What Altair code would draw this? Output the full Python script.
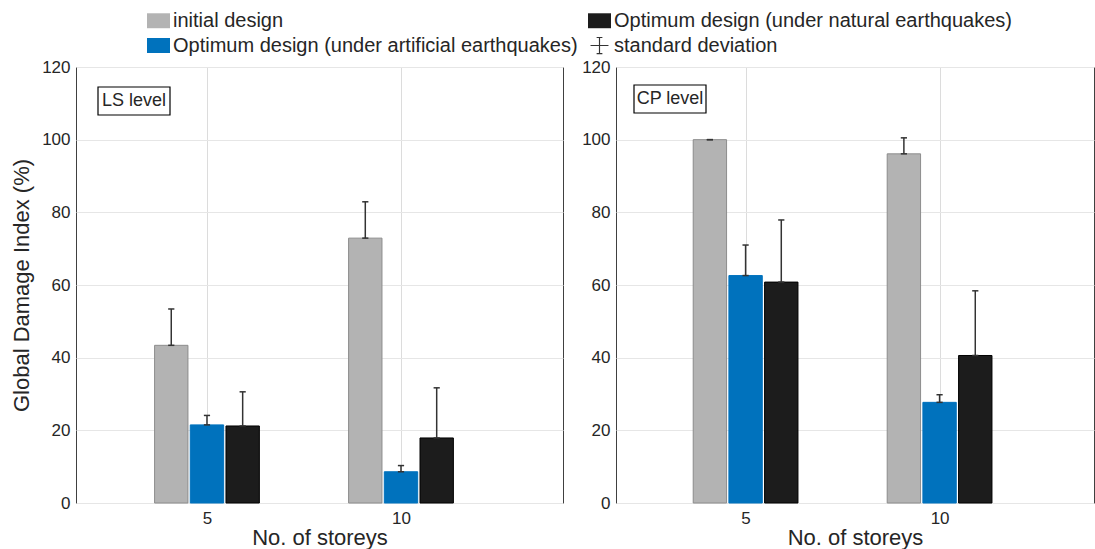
import altair as alt
import pandas as pd

storeys = ["5", "10"]
series = [
    "initial design",
    "Optimum design (under artificial earthquakes)",
    "Optimum design (under natural earthquakes)",
]
std_label = "standard deviation"
panels = ["LS level", "CP level"]

# mean values [5 storeys, 10 storeys] per series
ls_initial = [43.4, 72.9]
ls_artificial = [21.5, 8.6]
ls_natural = [21.2, 17.9]
ls_initial_sd = [10.0, 10.0]
ls_artificial_sd = [2.6, 1.7]
ls_natural_sd = [9.4, 13.8]

cp_initial = [100.0, 96.1]
cp_artificial = [62.6, 27.7]
cp_natural = [60.8, 40.6]
cp_initial_sd = [0.0, 4.4]
cp_artificial_sd = [8.4, 2.1]
cp_natural_sd = [17.1, 17.8]

y_ticks = [0, 20, 40, 60, 80, 100, 120]

colors = ["#b3b3b3", "#0072bd", "#1c1c1c", "#333333"]
strokes = ["#8c8c8c", "#0072bd", "#000000"]

panel_data = {
    "LS level": ([ls_initial, ls_artificial, ls_natural],
                 [ls_initial_sd, ls_artificial_sd, ls_natural_sd]),
    "CP level": ([cp_initial, cp_artificial, cp_natural],
                 [cp_initial_sd, cp_artificial_sd, cp_natural_sd]),
}

label_expr = "[" + ",".join("'%s'" % s for s in storeys) + "][datum.value - 1]"
FONT = "Liberation Sans"
TXT = "#262626"

# legend fills column by column: initial/artificial, then natural/std
legend_domain = series + [std_label]
# thin filled bars forming the error-bar glyph; plain rectangle for swatches
cross_path = ("M-0.78,-0.05H0.78V0.05H-0.78Z"
              "M-0.05,-0.7H0.05V0.7H-0.05Z"
              "M-0.25,-0.75H0.25V-0.65H-0.25Z"
              "M-0.25,0.65H0.25V0.75H-0.25Z")
rect_path = "M-1,-0.65H1V0.65H-1Z"
sym_shape = "datum.value === '%s' ? '%s' : '%s'" % (std_label, cross_path, rect_path)


def make_panel(name, first, width, xdomain):
    means, sds = panel_data[name]
    rows = []
    for j, s in enumerate(series):
        for i, st in enumerate(storeys):
            rows.append({"storey": i + 1, "sidx": j, "series": s,
                         "mean": means[j][i], "sd": sds[j][i]})
    df = pd.DataFrame(rows)

    base = alt.Chart(df).transform_calculate(
        xc="datum.storey + (datum.sidx - 1) * 0.184",
        xl="datum.xc - 0.086",
        xr="datum.xc + 0.086",
        cl="datum.xc - 0.016",
        cr="datum.xc + 0.016",
        top="datum.mean + datum.sd",
    )

    xscale = alt.Scale(domain=xdomain, zero=False, nice=False)
    yscale = alt.Scale(domain=[0, 120], nice=False)

    xaxis = alt.Axis(values=[1, 2], labelExpr=label_expr, grid=True,
                     gridColor="#dcdcdc", ticks=False, domain=False,
                     labelFontSize=17, labelPadding=7, titleFontSize=22,
                     titleBaseline="alphabetic", titleY=41,
                     labelFont=FONT, titleFont=FONT,
                     labelColor=TXT, titleColor=TXT, titleFontWeight="normal")
    yaxis = alt.Axis(values=y_ticks, grid=True, gridColor="#e6e6e6",
                     ticks=False, domain=False, labelFontSize=17,
                     labelPadding=6, titleFontSize=22, titlePadding=8,
                     labelFont=FONT, titleFont=FONT, labelColor=TXT,
                     titleColor=TXT, titleFontWeight="normal",
                     title="Global Damage Index (%)" if first else None)

    legend = None
    if first:
        legend = alt.Legend(
            orient="none", legendX=71, legendY=-58, columns=2,
            columnPadding=10, rowPadding=3, title=None,
            labelFontSize=20, labelFont=FONT, labelColor=TXT,
            labelLimit=0, labelOffset=3, symbolSize=529,
            symbolType={"expr": sym_shape},
            symbolStrokeWidth=0,
            symbolOpacity=1,
        )

    bars = base.mark_bar(strokeWidth=1).encode(
        x=alt.X("xl:Q", scale=xscale, axis=xaxis, title="No. of storeys"),
        x2="xr:Q",
        y=alt.Y("mean:Q", scale=yscale, axis=yaxis),
        y2=alt.datum(0),
        color=alt.Color("series:N",
                        scale=alt.Scale(domain=legend_domain, range=colors),
                        legend=legend),
        stroke=alt.Stroke("series:N",
                          scale=alt.Scale(domain=series, range=strokes),
                          legend=None),
    )
    err = base.mark_rule(color="#333333", strokeWidth=1.5).encode(
        x="xc:Q", y="mean:Q", y2="top:Q")
    cap_top = base.mark_rule(color="#333333", strokeWidth=1.5).encode(
        x="cl:Q", x2="cr:Q", y="top:Q")
    cap_bot = base.mark_rule(color="#333333", strokeWidth=1.5).encode(
        x="cl:Q", x2="cr:Q", y="mean:Q")

    box_x = 22 if first else 18
    box_y = 20 if first else 18
    one = alt.Data(values=[{"label": name}])
    box = alt.Chart(one).mark_rect(fill="white", stroke="#000000",
                                   strokeWidth=1.2).encode(
        x=alt.value(box_x), x2=alt.value(box_x + 72),
        y=alt.value(box_y), y2=alt.value(box_y + 28))
    txt = alt.Chart(one).mark_text(fontSize=18, font=FONT, color=TXT,
                                   align="center", baseline="middle").encode(
        x=alt.value(box_x + 36), y=alt.value(box_y + 14), text="label:N")

    return alt.layer(bars, err, cap_top, cap_bot, box, txt).properties(
        width=width, height=436)


left = make_panel(panels[0], True, 487, [0.325, 2.835])
right = make_panel(panels[1], False, 478, [0.332, 2.796])

chart = alt.hconcat(left, right, spacing=53, bounds="flush").resolve_scale(
    color="shared", stroke="independent"
).properties(
    padding={"left": 10, "top": 9, "right": 0, "bottom": 0},
    background="white",
).configure_view(stroke="#404040", strokeWidth=1)

chart.save("out.html", embed_options={"renderer": "svg", "actions": False})
